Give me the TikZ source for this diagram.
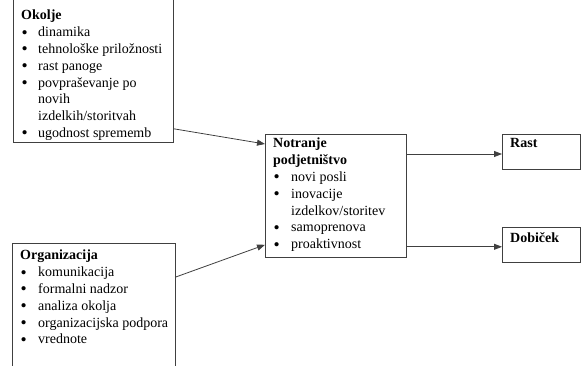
\documentclass[tikz,border=0pt]{standalone}
\usepackage{fontspec}
\setmainfont{Liberation Serif}
\usetikzlibrary{arrows.meta}
\newcommand{\bul}{\hspace{0.5pt}\raisebox{-1.3pt}{\scalebox{1.25}{\textbullet}}}
\begin{document}
\begin{tikzpicture}[x=1pt,y=-1pt,
  box/.style={draw=black!75, line width=0.8pt, rectangle, inner sep=0pt, anchor=north west},
  txt/.style={inner sep=0pt, anchor=north west, align=left, font=\fontsize{14}{16.8}\selectfont},
  conn/.style={draw=black!75, line width=0.8pt, -{Triangle[length=8pt,width=6pt]}}]
\useasboundingbox (0,0) rectangle (581,366);
\clip (0,0) rectangle (581,366);
\fill[white] (0,0) rectangle (581,366);
% boxes
\node[box, minimum width=160pt, minimum height=152pt] (okolje) at (13,-10) {};
\node[box, minimum width=163pt, minimum height=130pt] (org) at (12,243) {};
\node[box, minimum width=141pt, minimum height=123pt] (notr) at (265,134) {};
\node[box, minimum width=78pt, minimum height=35pt] (rast) at (502,134) {};
\node[box, minimum width=78pt, minimum height=35pt] (dob) at (502,227) {};
% texts
\node[txt] (okoljeT) at (21,8) {%
\begin{tabular}{@{}p{17pt}@{}l@{}}
\multicolumn{2}{@{}l@{}}{\textbf{Okolje}}\\
\bul & dinamika\\
\bul & tehnološke priložnosti\\
\bul & rast panoge\\
\bul & povpraševanje po\\
 & novih\\
 & izdelkih/storitvah\\
\bul & ugodnost sprememb
\end{tabular}};
\node[txt] (orgT) at (20,248) {%
\begin{tabular}{@{}p{18pt}@{}l@{}}
\multicolumn{2}{@{}l@{}}{\textbf{Organizacija}}\\
\bul & komunikacija\\
\bul & formalni nadzor\\
\bul & analiza okolja\\
\bul & organizacijska podpora\\
\bul & vrednote
\end{tabular}};
\node[txt] (notrT) at (273,136) {%
\begin{tabular}{@{}p{18pt}@{}l@{}}
\multicolumn{2}{@{}l@{}}{\textbf{Notranje}}\\
\multicolumn{2}{@{}l@{}}{\textbf{podjetništvo}}\\
\bul & novi posli\\
\bul & inovacije\\
 & izdelkov/storitev\\
\bul & samoprenova\\
\bul & proaktivnost
\end{tabular}};
\node[txt] (rastT) at (510,138) {\textbf{Rast}};
\node[txt] (dobT) at (510,232) {\textbf{Dobiček}};
% connectors
\draw[conn] ([yshift=14pt]okolje.south east) -- ([yshift=-10pt]notr.north west);
\draw[conn] ([yshift=-34pt]org.north east) -- ([yshift=13pt]notr.south west);
\draw[conn] ([yshift=-20pt]notr.north east) -- ([yshift=-20pt]rast.north west);
\draw[conn] ([yshift=11pt]notr.south east) -- ([yshift=16pt]dob.south west);
\end{tikzpicture}
\end{document}
